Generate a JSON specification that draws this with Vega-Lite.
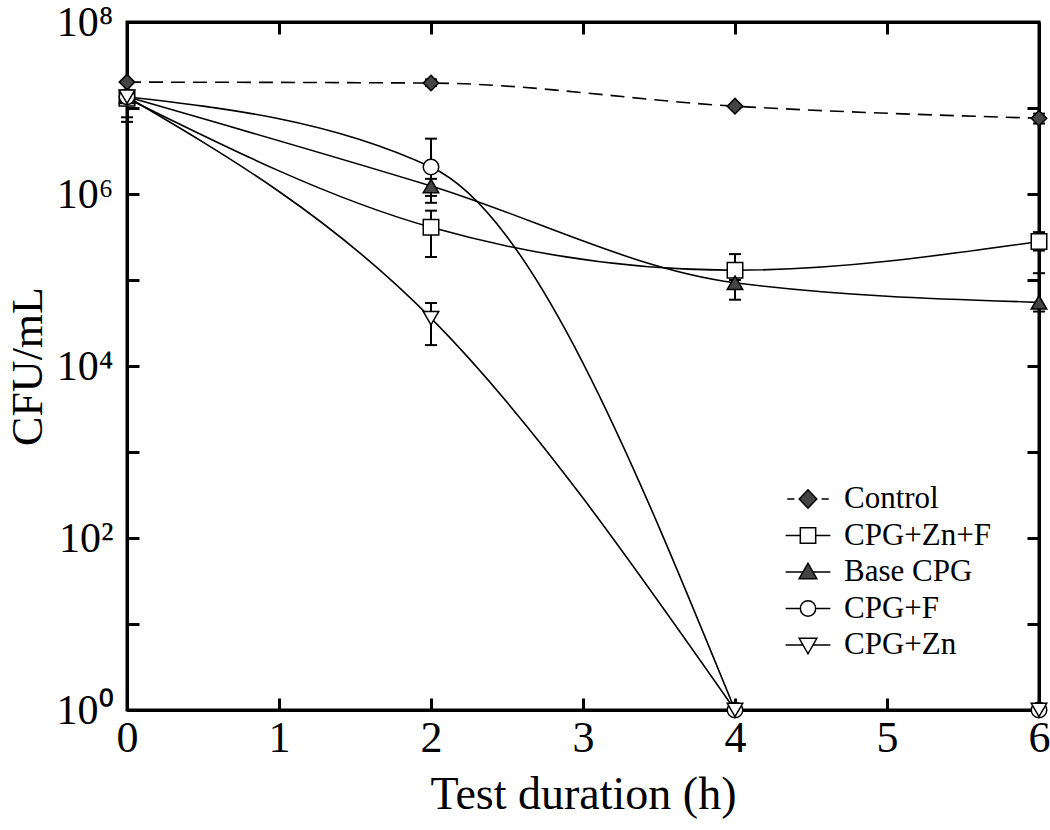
{
  "$schema": "https://vega.github.io/schema/vega-lite/v6.json",
  "width": 912,
  "height": 688,
  "autosize": {"type": "none"},
  "padding": {"left": 127, "top": 22, "right": 11, "bottom": 120},
  "background": "white",
  "config": {
    "view": {"stroke": "black", "strokeWidth": 3},
    "font": "Liberation Serif",
    "axis": {
      "grid": false,
      "domainColor": "black",
      "domainWidth": 3,
      "tickColor": "black",
      "tickWidth": 3,
      "labelColor": "black",
      "titleColor": "black",
      "labelFont": "Liberation Serif",
      "titleFont": "Liberation Serif",
      "titleFontWeight": "normal"
    }
  },
  "datasets": {
    "pts": [
      {"series": "Control", "t": 0, "cfu": 2.0e7, "lo": null, "hi": null},
      {"series": "Control", "t": 2, "cfu": 1.95e7, "lo": 1.8e7, "hi": 2.15e7},
      {"series": "Control", "t": 4, "cfu": 1.05e7, "lo": null, "hi": null},
      {"series": "Control", "t": 6, "cfu": 7.6e6, "lo": 6.6e6, "hi": 8.6e6},
      {"series": "CPG+Zn+F", "t": 0, "cfu": 1.3e7, "lo": 6.9e6, "hi": 1.6e7},
      {"series": "CPG+Zn+F", "t": 2, "cfu": 4.1e5, "lo": 1.85e5, "hi": 6.4e5},
      {"series": "CPG+Zn+F", "t": 4, "cfu": 1.3e5, "lo": 1.0e5, "hi": 2.0e5},
      {"series": "CPG+Zn+F", "t": 6, "cfu": 2.8e5, "lo": 2.2e5, "hi": 3.6e5},
      {"series": "Base CPG", "t": 0, "cfu": 1.35e7, "lo": 7.8e6, "hi": 1.6e7},
      {"series": "Base CPG", "t": 2, "cfu": 1.24e6, "lo": 7.9e5, "hi": 1.5e6},
      {"series": "Base CPG", "t": 4, "cfu": 9.3e4, "lo": 5.9e4, "hi": 1.1e5},
      {"series": "Base CPG", "t": 6, "cfu": 5.5e4, "lo": 4.3e4, "hi": 1.2e5},
      {"series": "CPG+F", "t": 0, "cfu": 1.35e7, "lo": null, "hi": null},
      {"series": "CPG+F", "t": 2, "cfu": 2.06e6, "lo": 9.5e5, "hi": 4.4e6},
      {"series": "CPG+F", "t": 4, "cfu": 1, "lo": null, "hi": null},
      {"series": "CPG+F", "t": 6, "cfu": 1, "lo": null, "hi": null},
      {"series": "CPG+Zn", "t": 0, "cfu": 1.35e7, "lo": null, "hi": null},
      {"series": "CPG+Zn", "t": 2, "cfu": 3.6e4, "lo": 1.75e4, "hi": 5.4e4},
      {"series": "CPG+Zn", "t": 4, "cfu": 1, "lo": null, "hi": null},
      {"series": "CPG+Zn", "t": 6, "cfu": 1, "lo": null, "hi": null}
    ]
  },
  "data": {"name": "pts"},
  "layer": [
    {
      "transform": [{"filter": "datum.series != 'Control' && (datum.t < 6 || datum.cfu > 1)"}],
      "mark": {"type": "line", "interpolate": "monotone", "strokeWidth": 1.6, "color": "black"},
      "encoding": {
        "x": {
          "field": "t", "type": "quantitative",
          "scale": {"domain": [0, 6], "nice": false, "zero": false},
          "axis": {
            "orient": "bottom", "values": [0, 1, 2, 3, 4, 5, 6], "tickSize": -12,
            "labelFontSize": 44, "labelPadding": 18, "title": "Test duration (h)",
            "titleFontSize": 46, "titlePadding": 12, "labelFlush": false
          }
        },
        "y": {
          "field": "cfu", "type": "quantitative",
          "scale": {"type": "log", "domain": [1, 100000000], "nice": false},
          "axis": {
            "orient": "left",
            "values": [1, 10, 100, 1000, 10000, 100000, 1000000, 10000000, 100000000],
            "tickSize": -12,
            "labelExpr": "datum.value == 1 ? '10⁰' : datum.value == 100 ? '10²' : datum.value == 10000 ? '10⁴' : datum.value == 1000000 ? '10⁶' : datum.value == 100000000 ? '10⁸' : ''",
            "labelFontSize": 42, "labelPadding": 26, "labelFlush": false,
            "title": "CFU/mL", "titleFontSize": 44, "titlePadding": 6
          }
        },
        "detail": {"field": "series", "type": "nominal"}
      }
    },
    {
      "transform": [{"filter": "datum.series == 'Control'"}],
      "mark": {"type": "line", "interpolate": "monotone", "strokeWidth": 1.6, "color": "black", "strokeDash": [14, 8]},
      "encoding": {
        "x": {"field": "t", "type": "quantitative", "axis": null},
        "y": {"field": "cfu", "type": "quantitative", "axis": null}
      }
    },
    {
      "transform": [{"filter": "datum.lo != null"}],
      "mark": {"type": "rule", "color": "black", "strokeWidth": 2},
      "encoding": {
        "x": {
          "field": "t", "type": "quantitative",
          "axis": {"orient": "top", "values": [0, 1, 2, 3, 4, 5, 6], "tickSize": -12, "labels": false, "title": null}
        },
        "y": {
          "field": "lo", "type": "quantitative",
          "axis": {
            "orient": "right",
            "values": [1, 10, 100, 1000, 10000, 100000, 1000000, 10000000, 100000000],
            "tickSize": -12, "labels": false, "title": null
          }
        },
        "y2": {"field": "hi"}
      }
    },
    {
      "transform": [
        {"filter": "datum.lo != null"},
        {"fold": ["lo", "hi"], "as": ["end", "val"]}
      ],
      "mark": {"type": "point", "shape": "stroke", "size": 144, "stroke": "black", "strokeWidth": 2, "opacity": 1},
      "encoding": {
        "x": {"field": "t", "type": "quantitative", "axis": null},
        "y": {"field": "val", "type": "quantitative", "axis": null}
      }
    },
    {
      "mark": {"type": "point", "filled": true, "stroke": "black", "strokeWidth": 1.5, "size": 240, "opacity": 1},
      "encoding": {
        "x": {"field": "t", "type": "quantitative", "axis": null},
        "y": {"field": "cfu", "type": "quantitative", "axis": null},
        "shape": {
          "field": "series", "type": "nominal",
          "scale": {"domain": ["CPG+Zn", "CPG+F", "Base CPG", "CPG+Zn+F", "Control"], "range": ["triangle-down", "circle", "triangle-up", "square", "diamond"]},
          "legend": null
        },
        "fill": {
          "field": "series", "type": "nominal",
          "scale": {"domain": ["Control", "CPG+Zn+F", "Base CPG", "CPG+F", "CPG+Zn"], "range": ["#444444", "#ffffff", "#444444", "#ffffff", "#ffffff"]},
          "legend": {
            "orient": "none", "legendX": 664, "legendY": 460, "title": null, "padding": 0,
            "symbolSize": 1024, "symbolStrokeColor": "black", "symbolStrokeWidth": 1.5, "symbolOpacity": 1,
            "labelFont": "Liberation Serif", "labelFontSize": 31, "labelColor": "black",
            "labelOffset": 19, "rowPadding": 4.5, "labelLimit": 400,
            "encoding": {"symbols": {
              "stroke": {"value": "black"},
              "strokeWidth": {"value": 1.5},
              "shape": {"value": {"expr": "datum.value === 'Control' ? 'M-1.3,0H-0.85M-0.55,0L0,-0.58L0.55,0L0,0.58ZM0.85,0H1.3' : datum.value === 'CPG+Zn+F' ? 'M-1.4,0H-0.48M-0.48,-0.48H0.48V0.48H-0.48ZM0.48,0H1.4' : datum.value === 'Base CPG' ? 'M-1.4,0H-0.3M-0.55,0.42L0,-0.55L0.55,0.42ZM0.3,0H1.4' : datum.value === 'CPG+F' ? 'M-1.4,0H-0.48M-0.48,0A0.48,0.48,0,1,0,0.48,0A0.48,0.48,0,1,0,-0.48,0ZM0.48,0H1.4' : 'M-1.4,0H-0.3M-0.55,-0.42L0.55,-0.42L0,0.55ZM0.3,0H1.4'"}}
            }}
          }
        }
      }
    }
  ],
  "resolve": {"axis": {"x": "independent", "y": "independent"}}
}
